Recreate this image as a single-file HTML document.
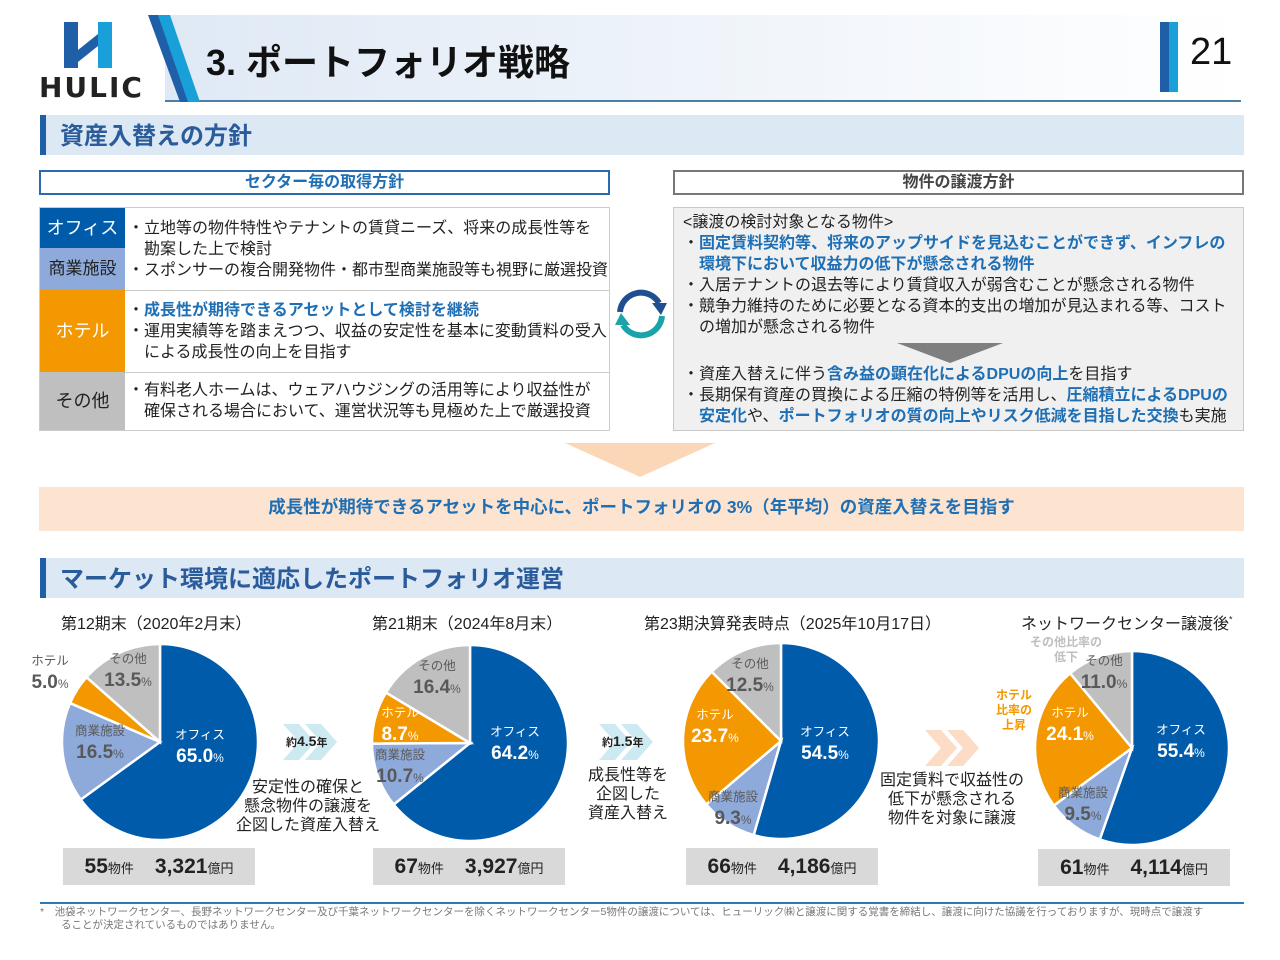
<!DOCTYPE html>
<html><head><meta charset="utf-8">
<style>
*{margin:0;padding:0;box-sizing:border-box}
body{width:1280px;height:960px;position:relative;background:#fff;font-family:"Liberation Sans","Noto Sans CJK JP",sans-serif;color:#222;overflow:hidden}
.a{position:absolute;white-space:nowrap}
.b{font-weight:bold}
.blue{color:#1f6fb5;font-weight:bold}
.sec{position:absolute;left:40px;width:1204px;height:40px;background:#dde8f5}
.sec i{position:absolute;left:0;top:0;width:6px;height:40px;background:#1f5fa8}
.sec span{position:absolute;left:20px;top:1px;font-size:24px;font-weight:bold;color:#2a5b9a}
.sum{position:absolute;width:192px;height:37px;background:#d9d9d9;text-align:center;line-height:37px;font-weight:bold;font-size:21px;color:#222}
.sum small{font-size:13px;font-weight:normal}
.tx{font-size:16px;line-height:21px}
</style></head><body>
<!-- header -->
<div class="a" style="left:165px;top:15px;width:1076px;height:86px;background:linear-gradient(90deg,#dfe9f5,#ffffff)"></div>
<div class="a" style="left:165px;top:100px;width:1076px;height:2px;background:#4d7fa3"></div>
<svg class="a" style="left:140px;top:14px" width="60" height="90"><polygon points="8,1 26,1 58,88 40,88" fill="#1f5fa8"/><polygon points="18,1 30,1 60,88 48,88" fill="#19a0d8"/></svg>
<svg class="a" style="left:62px;top:20px" width="54" height="50"><rect x="2" y="2" width="14" height="46" fill="#1f5fa8"/><rect x="36" y="2" width="14" height="46" fill="#19a0d8"/><polygon points="16,30 36,14 36,26 16,42" fill="#1f5fa8"/></svg>
<div class="a b" style="left:39px;top:71px;font-size:28px;letter-spacing:2px;color:#222;font-family:'DejaVu Sans',sans-serif">HULIC</div>
<div class="a b" style="left:206px;top:34px;font-size:36px;color:#111">3. ポートフォリオ戦略</div>
<div class="a" style="left:1160px;top:22px;width:18px;height:70px;background:linear-gradient(90deg,#1f5fa8 50%,#19a0d8 50%)"></div>
<div class="a" style="left:1190px;top:31px;font-size:38px;color:#111">21</div>

<div class="sec" style="top:115px"><i></i><span>資産入替えの方針</span></div>

<!-- left -->
<div class="a b" style="left:39px;top:170px;width:571px;height:25px;border:2px solid #2a6ab0;text-align:center;line-height:21px;font-size:16px;color:#1f6fb5">セクター毎の取得方針</div>
<div class="a" style="left:39px;top:207px;width:571px;height:224px;border:1px solid #ccc;background:#fff"></div>
<div class="a" style="left:40px;top:208px;width:85px;height:40px;background:#005bab;color:#fff;font-size:18px;text-align:center;line-height:40px">オフィス</div>
<div class="a" style="left:40px;top:248px;width:85px;height:42px;background:#8eaadb;color:#222;font-size:17px;text-align:center;line-height:42px">商業施設</div>
<div class="a" style="left:40px;top:290px;width:85px;height:82px;background:#f39800;color:#fff;font-size:18px;text-align:center;line-height:82px">ホテル</div>
<div class="a" style="left:40px;top:372px;width:85px;height:58px;background:#bfbfbf;color:#222;font-size:18px;text-align:center;line-height:58px">その他</div>
<div class="a" style="left:125px;top:290px;width:485px;height:1px;background:#ccc"></div>
<div class="a" style="left:125px;top:372px;width:485px;height:1px;background:#ccc"></div>
<div class="a tx" style="left:128px;top:218px">・立地等の物件特性やテナントの賃貸ニーズ、将来の成長性等を<br>　勘案した上で検討<br>・スポンサーの複合開発物件・都市型商業施設等も視野に厳選投資</div>
<div class="a tx" style="left:128px;top:300px">・<span class="blue">成長性が期待できるアセットとして検討を継続</span><br>・運用実績等を踏まえつつ、収益の安定性を基本に変動賃料の受入<br>　による成長性の向上を目指す</div>
<div class="a tx" style="left:128px;top:380px">・有料老人ホームは、ウェアハウジングの活用等により収益性が<br>　確保される場合において、運営状況等も見極めた上で厳選投資</div>

<svg class="a" style="left:612px;top:285px" width="58" height="58"><path d="M8,27 A21,21 0 0 1 47,18" fill="none" stroke="#1f4f8f" stroke-width="6"/><polygon points="40,18 55,18 49,30" fill="#1f4f8f"/><path d="M50,31 A21,21 0 0 1 11,40" fill="none" stroke="#1aa3a8" stroke-width="6"/><polygon points="18,40 3,40 9,28" fill="#1aa3a8"/></svg>

<!-- right -->
<div class="a b" style="left:673px;top:170px;width:571px;height:25px;border:2px solid #777;text-align:center;line-height:21px;font-size:16px;color:#444">物件の譲渡方針</div>
<div class="a" style="left:673px;top:207px;width:571px;height:224px;border:1px solid #c8c8c8;background:#f0f0f0"></div>
<div class="a tx" style="left:683px;top:212px">&lt;譲渡の検討対象となる物件&gt;<br>・<span class="blue">固定賃料契約等、将来のアップサイドを見込むことができず、インフレの</span><br>　<span class="blue">環境下において収益力の低下が懸念される物件</span><br>・入居テナントの退去等により賃貸収入が弱含むことが懸念される物件<br>・競争力維持のために必要となる資本的支出の増加が見込まれる等、コスト<br>　の増加が懸念される物件</div>
<svg class="a" style="left:897px;top:343px" width="106" height="20"><polygon points="0,0 106,0 53,20" fill="#7f7f7f"/></svg>
<div class="a tx" style="left:683px;top:364px">・資産入替えに伴う<span class="blue">含み益の顕在化によるDPUの向上</span>を目指す<br>・長期保有資産の買換による圧縮の特例等を活用し、<span class="blue">圧縮積立によるDPUの</span><br>　<span class="blue">安定化</span>や、<span class="blue">ポートフォリオの質の向上やリスク低減を目指した交換</span>も実施</div>

<svg class="a" style="left:565px;top:443px" width="150" height="34"><polygon points="0,0 150,0 75,34" fill="#fbd7b8"/></svg>
<div class="a b" style="left:39px;top:487px;width:1205px;height:44px;background:#fce4d0;text-align:center;line-height:40px;font-size:17.5px;color:#1f6fb5">成長性が期待できるアセットを中心に、ポートフォリオの 3%（年平均）の資産入替えを目指す</div>

<div class="sec" style="top:558px"><i></i><span>マーケット環境に適応したポートフォリオ運営</span></div>

<div class="a" style="left:61px;top:610px;font-size:16px">第12期末（2020年2月末）</div>
<div class="a" style="left:372px;top:610px;font-size:16px">第21期末（2024年8月末）</div>
<div class="a" style="left:644px;top:610px;font-size:16px">第23期決算発表時点（2025年10月17日）</div>
<div class="a" style="left:1021px;top:610px;font-size:16px">ネットワークセンター譲渡後<sup style="font-size:9px">*</sup></div>

<svg class="a" id="pies" style="left:0;top:0" width="1280" height="960"></svg>

<svg class="a" style="left:283px;top:724px" width="56" height="36"><polygon points="0,0 16,0 32,18 16,36 0,36 16,18" fill="#cdeaf2"/><polygon points="22,0 38,0 54,18 38,36 22,36 38,18" fill="#cdeaf2"/></svg>
<div class="a b" style="left:286px;top:733px;font-size:14px"><small style="font-size:11px">約</small>4.5<small style="font-size:11px">年</small></div>
<svg class="a" style="left:599px;top:724px" width="56" height="36"><polygon points="0,0 16,0 32,18 16,36 0,36 16,18" fill="#cdeaf2"/><polygon points="22,0 38,0 54,18 38,36 22,36 38,18" fill="#cdeaf2"/></svg>
<div class="a b" style="left:602px;top:733px;font-size:14px"><small style="font-size:11px">約</small>1.5<small style="font-size:11px">年</small></div>
<svg class="a" style="left:925px;top:730px" width="56" height="36"><polygon points="0,0 16,0 32,18 16,36 0,36 16,18" fill="#fcdcc4"/><polygon points="22,0 38,0 54,18 38,36 22,36 38,18" fill="#fcdcc4"/></svg>
<div class="a" style="left:236px;top:778px;font-size:16px;line-height:19px;text-align:center">安定性の確保と<br>懸念物件の譲渡を<br>企図した資産入替え</div>
<div class="a" style="left:588px;top:766px;font-size:16px;line-height:19px;text-align:center">成長性等を<br>企図した<br>資産入替え</div>
<div class="a" style="left:880px;top:771px;font-size:16px;line-height:19px;text-align:center">固定賃料で収益性の<br>低下が懸念される<br>物件を対象に譲渡</div>
<div class="a b" style="left:1030px;top:635px;font-size:12px;line-height:15px;color:#bfbfbf;text-align:center">その他比率の<br>低下</div>
<div class="a b" style="left:996px;top:688px;font-size:12px;line-height:15px;color:#f39800;text-align:center">ホテル<br>比率の<br>上昇</div>

<div class="sum" style="left:63px;top:848px">55<small>物件</small>　3,321<small>億円</small></div>
<div class="sum" style="left:373px;top:848px">67<small>物件</small>　3,927<small>億円</small></div>
<div class="sum" style="left:686px;top:848px">66<small>物件</small>　4,186<small>億円</small></div>
<div class="sum" style="left:1038px;top:849px">61<small>物件</small>　4,114<small>億円</small></div>

<div class="a" style="left:40px;top:902px;width:1204px;height:2px;background:#2a7ab5"></div>
<div class="a" style="left:40px;top:906px;font-size:10.5px;line-height:13px;color:#777">*　池袋ネットワークセンター、長野ネットワークセンター及び千葉ネットワークセンターを除くネットワークセンター5物件の譲渡については、ヒューリック㈱と譲渡に関する覚書を締結し、譲渡に向けた協議を行っておりますが、現時点で譲渡す<br>　　ることが決定されているものではありません。</div>

<script>
const sectors = ['オフィス','商業施設','ホテル','その他'];
const pie12 = [65.0,16.5,5.0,13.5];
const pie21 = [64.2,10.7,8.7,16.4];
const pie23 = [54.5,9.3,23.7,12.5];
const pieAfter = [55.4,9.5,24.1,11.0];
const colors = ['#005bab','#8eaadb','#f39800','#bfbfbf'];
const textColors = ['#fff','#595959','#fff','#595959'];
const pies = [
 {vals:pie12,cx:160,cy:742,r:98,labels:[[200,739],[100,735],[50,665],[128,663]],tc:['#fff','#595959','#595959','#595959']},
 {vals:pie21,cx:470,cy:743,r:98,labels:[[515,736],[400,759],[400,717],[437,670]]},
 {vals:pie23,cx:781,cy:741,r:98,labels:[[825,736],[733,801],[715,719],[750,668]]},
 {vals:pieAfter,cx:1132,cy:748,r:97,labels:[[1181,734],[1083,797],[1070,717],[1104,665]]}
];
const svg=document.getElementById('pies');
const NS='http://www.w3.org/2000/svg';
function pt(cx,cy,r,a){return [cx+r*Math.cos(a),cy+r*Math.sin(a)];}
pies.forEach((p,pi)=>{
  const tot=p.vals.reduce((s,v)=>s+v,0);
  let a0=-Math.PI/2;
  p.vals.forEach((v,i)=>{
    const a1=a0+v/tot*2*Math.PI;
    const s=pt(p.cx,p.cy,p.r,a0),e=pt(p.cx,p.cy,p.r,a1);
    const path=document.createElementNS(NS,'path');
    path.setAttribute('d',`M${p.cx},${p.cy}L${s[0]},${s[1]}A${p.r},${p.r} 0 ${a1-a0>Math.PI?1:0} 1 ${e[0]},${e[1]}Z`);
    path.setAttribute('fill',colors[i]);path.setAttribute('stroke','#fff');path.setAttribute('stroke-width','2.5');
    
    
    svg.appendChild(path);
    a0=a1;
  });
  p.vals.forEach((v,i)=>{
    const [x,y]=p.labels[i];
    const c=(p.tc||textColors)[i];
    const t=document.createElementNS(NS,'text');
    t.setAttribute('x',x);t.setAttribute('y',y);t.setAttribute('text-anchor','middle');
    t.setAttribute('font-size','12.5');t.setAttribute('fill',c);
    t.textContent=sectors[i];
    
    
    svg.appendChild(t);
    const t2=document.createElementNS(NS,'text');
    t2.setAttribute('x',x);t2.setAttribute('y',y+23);t2.setAttribute('text-anchor','middle');
    t2.setAttribute('font-size','19');t2.setAttribute('font-weight','bold');t2.setAttribute('fill',c);
    t2.innerHTML=v.toFixed(1)+'<tspan font-size="12" font-weight="normal">%</tspan>';
    
    
    svg.appendChild(t2);
  });
});
</script>
</body></html>
